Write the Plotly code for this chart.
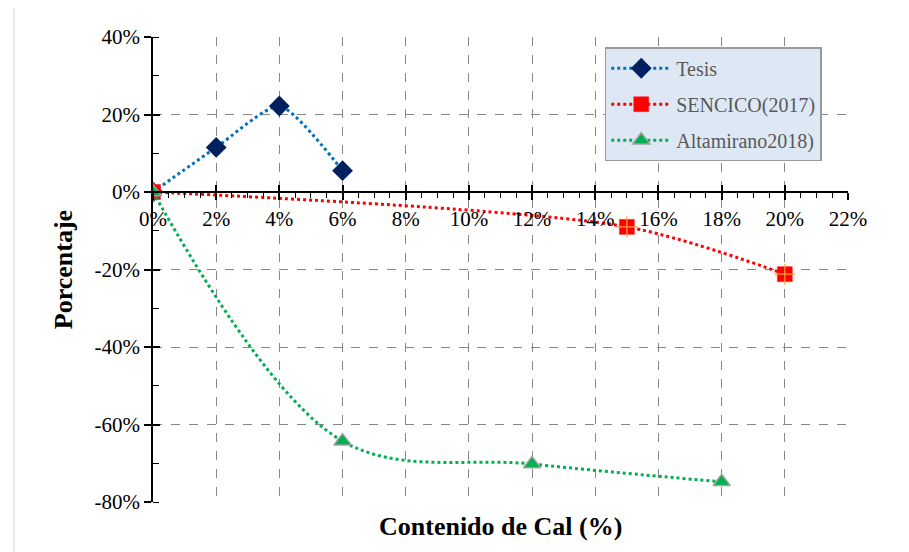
import plotly.graph_objects as go

# Data (fractions)
tesis_x = [0.00, 0.02, 0.04, 0.06]
tesis_y = [0.00, 0.115, 0.222, 0.055]
sencico_x = [0.00, 0.15, 0.20]
sencico_y = [0.00, -0.09, -0.212]
alta_x = [0.00, 0.06, 0.12, 0.18]
alta_y = [0.00, -0.643, -0.702, -0.748]

x_ticks = [0.00, 0.02, 0.04, 0.06, 0.08, 0.10, 0.12, 0.14, 0.16, 0.18, 0.20, 0.22]
x_labels = ["0%", "2%", "4%", "6%", "8%", "10%", "12%", "14%", "16%", "18%", "20%", "22%"]
y_ticks = [-0.8, -0.6, -0.4, -0.2, 0.0, 0.2, 0.4]
y_labels = ["-80%", "-60%", "-40%", "-20%", "0%", "20%", "40%"]

FONT = "Liberation Serif, Times New Roman, serif"
GRID = "#878787"
TICKFONT = 21

fig = go.Figure()

fig.add_trace(go.Scatter(
    x=tesis_x, y=tesis_y, name="Tesis", mode="lines+markers", legendgroup="a",
    line=dict(color="#0070c0", width=3, dash="dot", shape="spline", smoothing=0.6),
    marker=dict(symbol="diamond", size=16, color="#002060"),
))
fig.add_trace(go.Scatter(
    x=sencico_x, y=sencico_y, name="SENCICO(2017)", mode="lines+markers", legendgroup="b",
    line=dict(color="#ff0000", width=3, dash="dot", shape="spline", smoothing=0.8),
    marker=dict(symbol="square", size=15, color="#ff0000", line=dict(color="#ff2020", width=0.5)),
))
fig.add_trace(go.Scatter(
    x=sencico_x, y=sencico_y, mode="markers", showlegend=False, hoverinfo="skip", legendgroup="b",
    marker=dict(symbol="cross-thin", size=15, line=dict(color="#ffa040", width=1.2)),
))
fig.add_trace(go.Scatter(
    x=alta_x, y=alta_y, name="Altamirano2018)", mode="lines+markers", legendgroup="c",
    line=dict(color="#00b050", width=3, dash="dot", shape="spline", smoothing=1.0),
    marker=dict(symbol="triangle-up", size=15, color="#00b050", line=dict(color="#a0a0a0", width=1.5)),
))

ypos = 0.8 / 1.2

fig.update_layout(
    width=901, height=544,
    margin=dict(l=145, r=61, t=29, b=50),
    paper_bgcolor="white", plot_bgcolor="white",
    font=dict(family=FONT, size=20, color="black"),
    showlegend=True,
    legend=dict(
        x=0.650, y=0.978, xanchor="left", yanchor="top",
        bgcolor="#dde8f4", bordercolor="#9a9a9a", borderwidth=1.5,
        font=dict(family=FONT, size=20, color="#595959"),
        tracegroupgap=7, itemwidth=60,
    ),
    xaxis=dict(
        range=[0, 0.22], anchor="free", position=ypos,
        tickvals=x_ticks, ticktext=x_labels,
        showline=True, linecolor="black", linewidth=1.5,
        ticks="outside", ticklen=7, tickwidth=1.5, tickcolor="black",
        ticklabelstandoff=1,
        showgrid=True, gridcolor=GRID, griddash="dash", gridwidth=1.3,
        zeroline=False,
        minor=dict(dtick=0.005, ticks="outside", ticklen=5, tickcolor="black", tickwidth=1, showgrid=False),
        tickfont=dict(family=FONT, size=TICKFONT, color="black"),
    ),
    yaxis=dict(
        range=[-0.8, 0.4], tickvals=y_ticks, ticktext=y_labels,
        showline=True, linecolor="black", linewidth=1.5,
        ticks="outside", ticklen=7, tickwidth=1.5, tickcolor="black",
        showgrid=True, gridcolor=GRID, griddash="dash", gridwidth=1.3,
        zeroline=False,
        minor=dict(dtick=0.1, ticks="inside", ticklen=6, tickcolor="black", tickwidth=1, showgrid=False),
        tickfont=dict(family=FONT, size=TICKFONT, color="black"),
        title=dict(text="<b>Porcentaje</b>", font=dict(family=FONT, size=26, color="black"), standoff=14),
    ),
    xaxis2=dict(
        range=[0, 0.22], overlaying="x", anchor="free", position=ypos,
        tickvals=x_ticks, showticklabels=False, ticks="inside", ticklen=7, tickwidth=1.5,
        tickcolor="black", showgrid=False, zeroline=False, showline=False,
    ),
    yaxis2=dict(
        range=[-0.8, 0.4], overlaying="y", anchor="x", side="left",
        tickvals=y_ticks, showticklabels=False, ticks="inside", ticklen=7, tickwidth=1.5,
        tickcolor="black", showgrid=False, zeroline=False, showline=False,
    ),
    annotations=[dict(
        text="<b>Contenido de Cal (%)</b>", xref="paper", yref="paper",
        x=0.5, y=-0.018, xanchor="center", yanchor="top", showarrow=False,
        font=dict(family=FONT, size=26, color="black"),
    )],
    shapes=[dict(
        type="line", xref="paper", yref="paper", x0=-0.2, x1=-0.2, y0=-0.2, y1=1.1,
        line=dict(color="#e3e3e3", width=1.5),
    )],
)

fig.add_trace(go.Scatter(x=[None], y=[None], xaxis="x2", yaxis="y2", showlegend=False, hoverinfo="skip"))

fig.write_html("out.html")
